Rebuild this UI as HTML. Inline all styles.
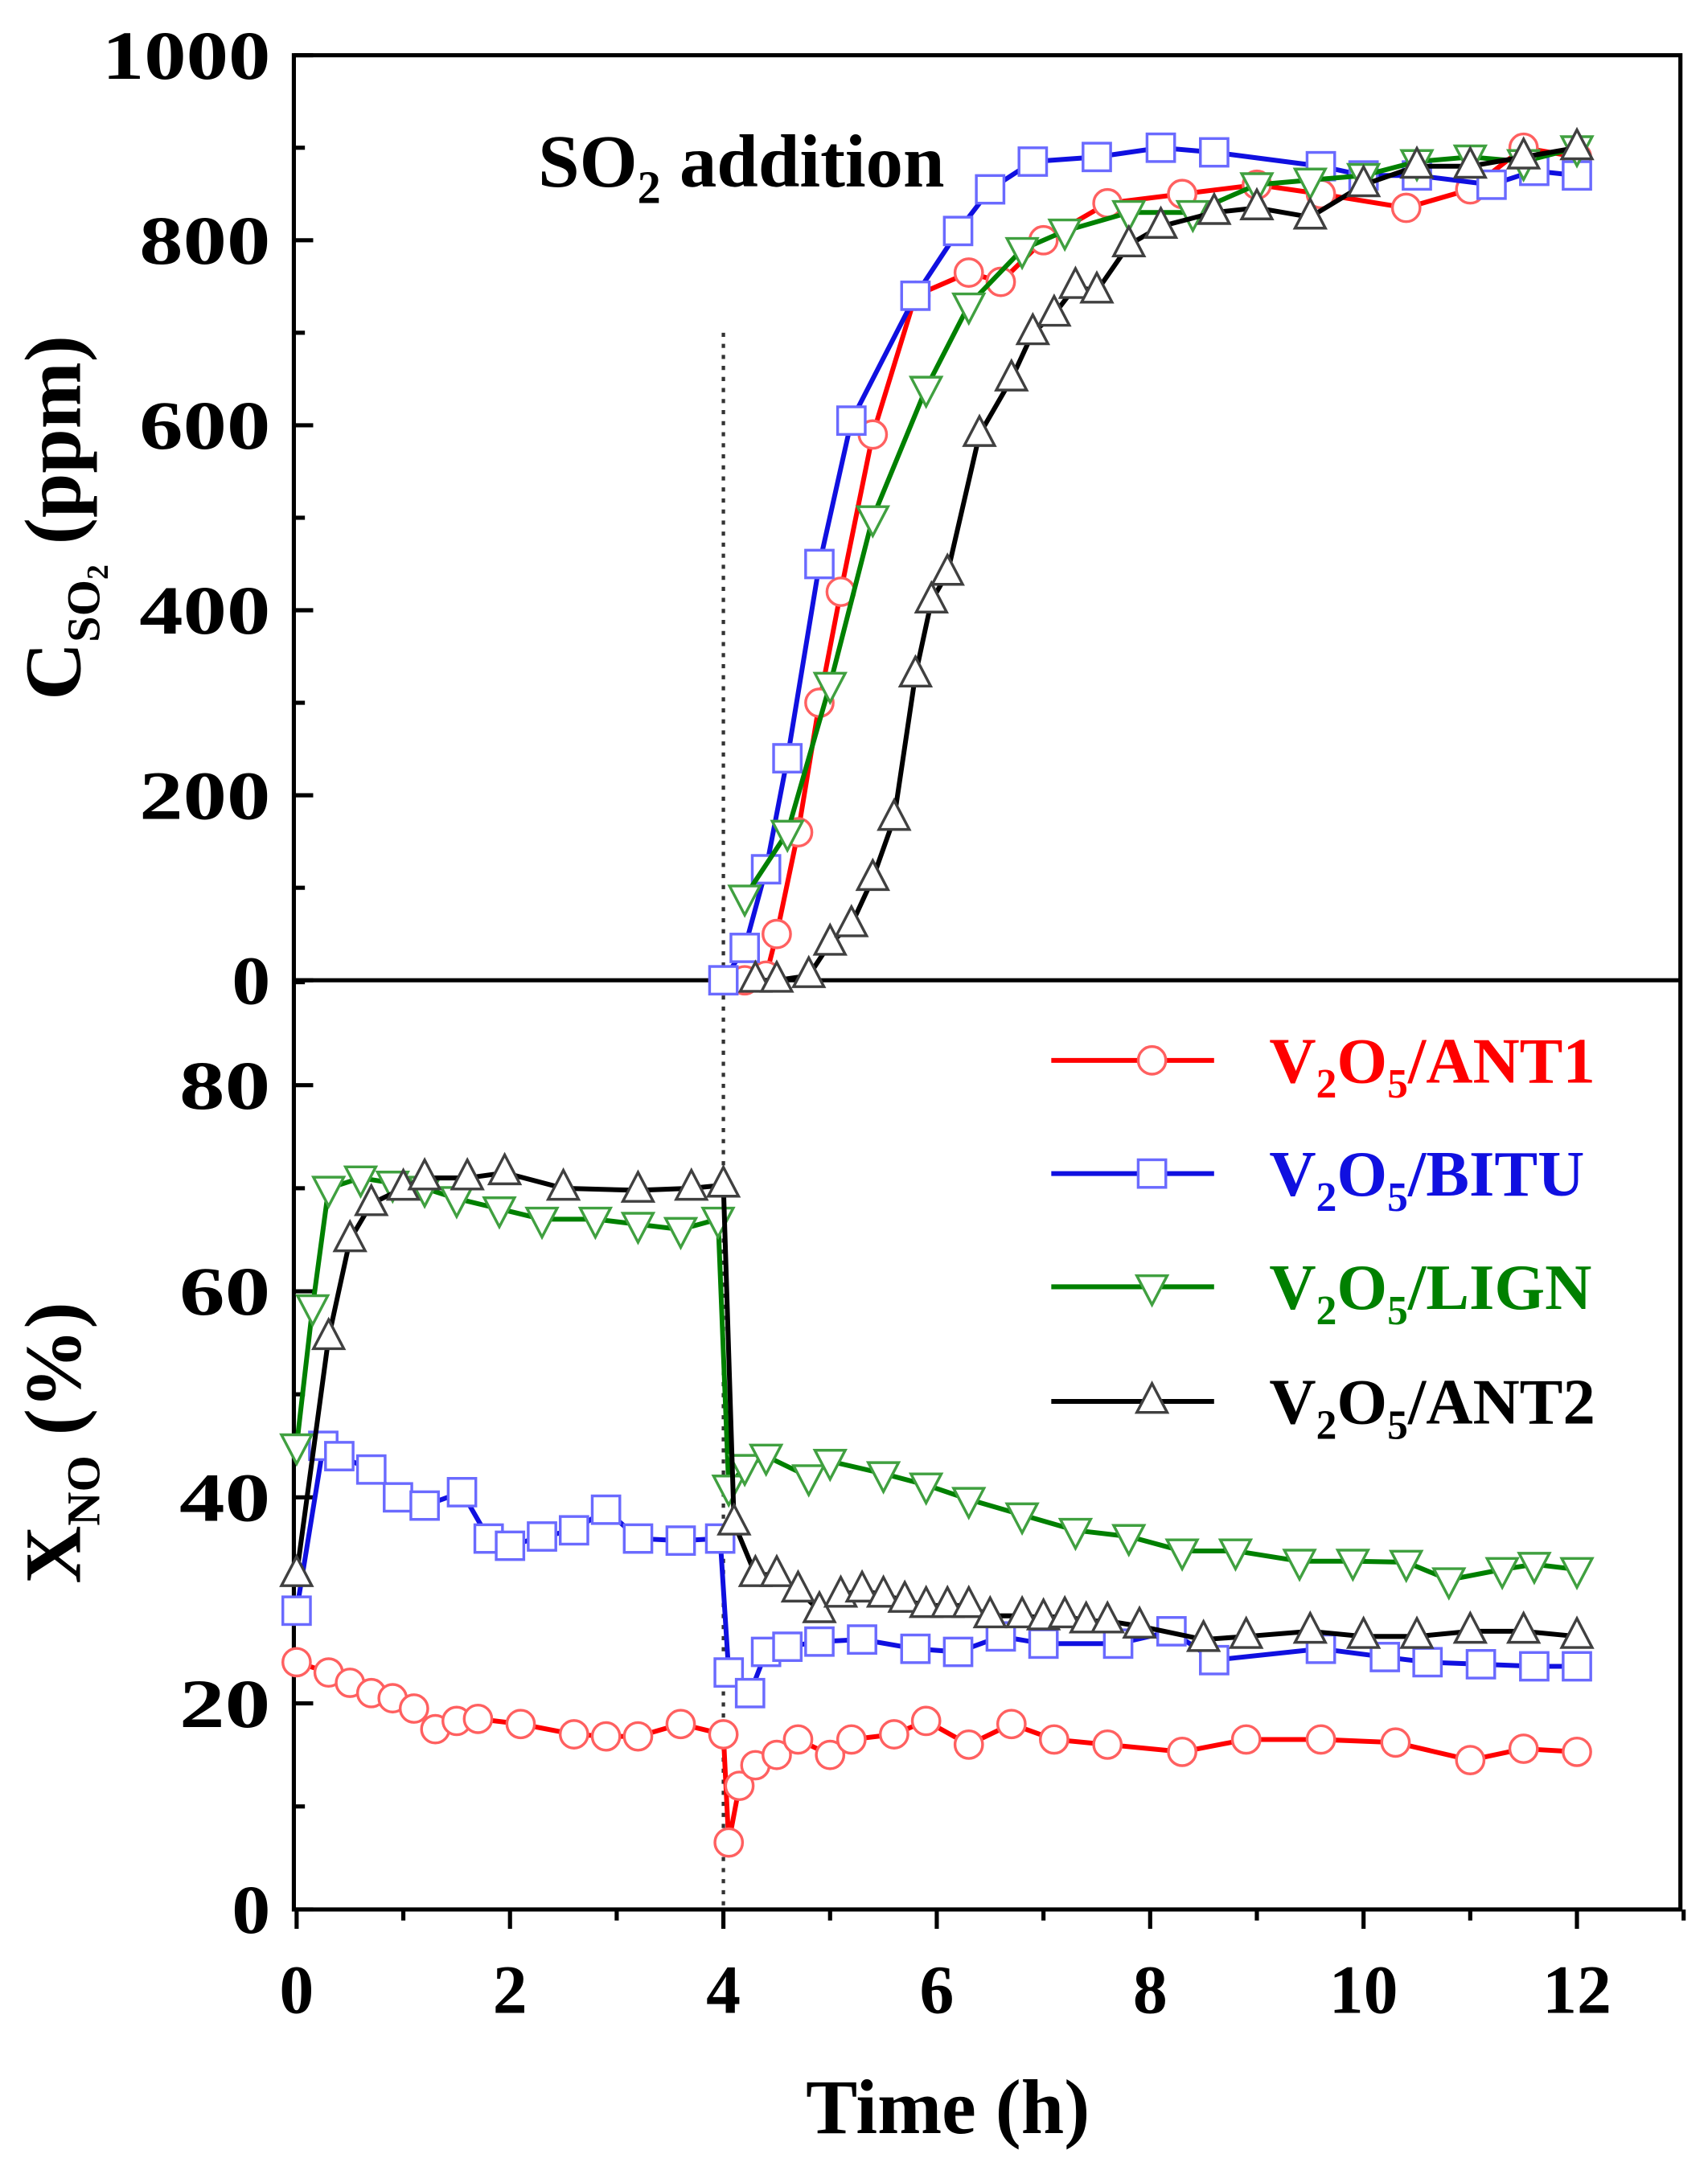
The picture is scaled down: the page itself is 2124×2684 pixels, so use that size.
<!DOCTYPE html>
<html><head><meta charset="utf-8"><style>
html,body{margin:0;padding:0;background:#fff}
svg{display:block}
text{font-family:"Liberation Serif",serif;font-weight:bold}
</style></head><body>
<svg id="chart" width="2124" height="2684" viewBox="0 0 1238 1563" preserveAspectRatio="none" xmlns="http://www.w3.org/2000/svg">
<g id="axes"></g>
<g id="series"></g>
<g id="legend"></g>
</svg>
<script>
// ---- data ----
const seriesNames=["V2O5/ANT1","V2O5/BITU","V2O5/LIGN","V2O5/ANT2"];
const so2Ant1T=[4.0,4.2,4.4,4.5,4.7,4.9,5.1,5.4,5.8,6.3,6.6,7.0,7.6,8.3,9.0,9.6,10.4,11.0,11.5,12.0];
const so2Ant1V=[0,0,5,50,160,300,420,590,740,765,755,800,840,850,860,850,835,855,900,890];
const so2BituT=[4.0,4.2,4.4,4.6,4.9,5.2,5.8,6.2,6.5,6.9,7.5,8.1,8.6,9.6,10.0,10.5,11.2,11.6,12.0];
const so2BituV=[0,35,120,240,450,605,740,810,855,885,890,900,895,880,870,870,860,875,870];
const so2LignT=[4.2,4.6,5.0,5.4,5.9,6.3,6.8,7.2,7.8,8.4,9.0,9.5,10.0,10.5,11.0,11.5,12.0];
const so2LignV=[90,160,320,500,640,730,790,810,830,830,860,865,870,885,890,885,900];
const so2Ant2T=[4.3,4.5,4.8,5.0,5.2,5.4,5.6,5.8,5.95,6.1,6.4,6.7,6.9,7.1,7.3,7.5,7.8,8.1,8.6,9.0,9.5,10.0,10.5,11.0,11.5,12.0];
const so2Ant2V=[0,0,5,40,60,110,175,330,410,440,590,650,700,720,750,745,795,815,830,835,825,860,880,880,890,900];
const noAnt1T=[0,0.3,0.5,0.7,0.9,1.1,1.3,1.5,1.7,2.1,2.6,2.9,3.2,3.6,4.0,4.05,4.15,4.3,4.5,4.7,5.0,5.2,5.6,5.9,6.3,6.7,7.1,7.6,8.3,8.9,9.6,10.3,11.0,11.5,12.0];
const noAnt1V=[24,23,22,21,20.5,19.5,17.5,18.3,18.5,18,17,16.8,16.8,18,17,6.5,12,14,15,16.5,15,16.5,17,18.3,16,18,16.5,16,15.3,16.5,16.5,16.2,14.5,15.6,15.3];
const noBituT=[0,0.25,0.4,0.7,0.95,1.2,1.55,1.8,2.0,2.3,2.6,2.9,3.2,3.6,3.97,4.05,4.25,4.4,4.6,4.9,5.3,5.8,6.2,6.6,7.0,7.7,8.2,8.6,9.6,10.2,10.6,11.1,11.6,12.0];
const noBituV=[29,45,44,42.7,40,39.2,40.5,36,35.3,36.2,36.8,38.8,36,35.8,36,23,21,25,25.5,26,26.2,25.3,25,26.5,25.8,25.8,27,24.2,25.3,24.5,24,23.8,23.6,23.6];
const noLignT=[0,0.15,0.3,0.6,0.9,1.2,1.5,1.9,2.3,2.8,3.2,3.6,3.95,4.05,4.2,4.4,4.8,5.0,5.5,5.9,6.3,6.8,7.3,7.8,8.3,8.8,9.4,9.9,10.4,10.8,11.3,11.6,12.0];
const noLignV=[45,58.5,70,71,70.5,70,69,68,67,67,66.5,66,67,41,43,44,42,43.5,42.3,41.2,39.8,38.3,36.8,36.2,34.8,34.8,33.8,33.8,33.7,32,33,33.5,33];
const noAnt2T=[0,0.3,0.5,0.7,1.0,1.2,1.6,1.95,2.5,3.2,3.7,4.0,4.1,4.3,4.5,4.7,4.9,5.1,5.3,5.5,5.7,5.9,6.1,6.3,6.5,6.8,7.0,7.2,7.4,7.6,7.9,8.5,8.9,9.5,10.0,10.5,11.0,11.5,12.0];
const noAnt2V=[32.5,55.5,65,68.5,70,71,71,71.5,70,69.8,70,70.3,37.5,32.5,32.5,31,29,30.5,31,30.5,30,29.5,29.5,29.5,28.5,28.5,28.3,28.5,28,28,27.5,26.2,26.5,27,26.5,26.5,27,27,26.5];
const xTicks=[0,2,4,6,8,10,12];
const so2Ticks=[0,200,400,600,800,1000];
const noTicks=[0,20,40,60,80];

// ---- scales ----
const L=213,R=1218,T=40,M=710,B=1383;
const xS=t=>215+t*(1143-215)/12;
const yTop=v=>710-v*0.67;
const yBot=v=>1383-v*(1383-786)/80;
const NS="http://www.w3.org/2000/svg";
function mk(tag,attrs,parent){const e=document.createElementNS(NS,tag);for(const k in attrs)e.setAttribute(k,attrs[k]);parent.appendChild(e);return e;}
const axes=document.getElementById('axes'),ser=document.getElementById('series'),leg=document.getElementById('legend');

let fr=mk('rect',{x:L,y:T,width:R-L,height:B-T,fill:'none',stroke:'#000','stroke-width':3},axes);


let mid=mk('line',{x1:L,x2:R,y1:M,y2:M,stroke:'#000','stroke-width':3},axes);


let dl=mk('line',{x1:xS(4),x2:xS(4),y1:yTop(700),y2:B,stroke:'#333','stroke-width':2.5,'stroke-dasharray':'3,5'},axes);



for(let t=0;t<=13;t++){
  const x=xS(t);const major=t%2===0;
  mk('line',{x1:x,x2:x,y1:B,y2:B+(major?14:8),stroke:'#000','stroke-width':3},axes);
}
xTicks.forEach(t=>{const e=mk('text',{x:xS(t),y:1458,'font-size':50,'text-anchor':'middle'},axes);e.textContent=t;

});
for(let v=0;v<=1000;v+=100){const y=yTop(v);mk('line',{x1:L,x2:L+(v%200===0?14:8),y1:y,y2:y,stroke:'#000','stroke-width':3},axes);}
so2Ticks.forEach(v=>{const e=mk('text',{x:196,y:yTop(v)+17,'font-size':50,'text-anchor':'end',textLength:v>=1000?122:(v>0?95:28),lengthAdjust:'spacingAndGlyphs'},axes);e.textContent=v;

});
for(let v=0;v<=90;v+=10){const y=yBot(v);mk('line',{x1:L,x2:L+(v%20===0?14:8),y1:y,y2:y,stroke:'#000','stroke-width':3},axes);}
noTicks.forEach(v=>{const e=mk('text',{x:196,y:yBot(v)+17,'font-size':50,'text-anchor':'end',textLength:v>0?66:28,lengthAdjust:'spacingAndGlyphs'},axes);e.textContent=v;

});

let xt=mk('text',{x:687,y:1545,'font-size':56,'text-anchor':'middle'},axes);xt.textContent='Time (h)';


let yt1=mk('text',{transform:'translate(58,375) rotate(-90)','font-size':58,'text-anchor':'middle'},axes);
yt1.innerHTML='C<tspan font-size="34" dy="14">SO</tspan><tspan font-size="22" dy="6">2</tspan><tspan dy="-20"> (ppm)</tspan>';


let yt2=mk('text',{transform:'translate(58,1045) rotate(-90)','font-size':58,'text-anchor':'middle'},axes);
yt2.innerHTML='X<tspan font-size="34" dy="14">NO</tspan><tspan dy="-14"> (%)</tspan>';


let ann=mk('text',{x:390,y:135,'font-size':54},axes);
ann.innerHTML='SO<tspan font-size="34" dy="12">2</tspan><tspan dy="-12"> addition</tspan>';



const colors=['#ff0000','#1010e0','#008000','#000000'];
const mcolors=['#ff6060','#6a6aff','#40a040','#404040'];
function marker(type,x,y,c,g){
  const s=10;let e;
  if(type===0)e=mk('circle',{cx:x,cy:y,r:s},g);
  else if(type===1)e=mk('rect',{x:x-s,y:y-s,width:2*s,height:2*s},g);
  else if(type===2)e=mk('polygon',{points:`${x-s-1},${y-s+2} ${x+s+1},${y-s+2} ${x},${y+s+3}`},g);
  else e=mk('polygon',{points:`${x-s-1},${y+s-2} ${x+s+1},${y+s-2} ${x},${y-s-3}`},g);
  e.setAttribute('fill','#fff');e.setAttribute('stroke',c);e.setAttribute('stroke-width',2);
  return e;
}
const sets=[
 [so2Ant1T,so2Ant1V,yTop,0,'so2-ant1'],[so2BituT,so2BituV,yTop,1,'so2-bitu'],[so2LignT,so2LignV,yTop,2,'so2-lign'],[so2Ant2T,so2Ant2V,yTop,3,'so2-ant2'],
 [noAnt1T,noAnt1V,yBot,0,'no-ant1'],[noBituT,noBituV,yBot,1,'no-bitu'],[noLignT,noLignV,yBot,2,'no-lign'],[noAnt2T,noAnt2V,yBot,3,'no-ant2']];
sets.forEach(([ts,vs,ys,k,name])=>{
  const g=mk('g',{},ser);
  
  
  const pts=ts.map((t,i)=>xS(t)+','+ys(vs[i])).join(' ');
  mk('polyline',{points:pts,fill:'none',stroke:colors[k],'stroke-width':3.5},g);
  ts.forEach((t,i)=>{const m=marker(k,xS(t),ys(vs[i]),mcolors[k],g);
    
    });
});

const legY=[768,850,932,1015];
const legLabels=['ANT1','BITU','LIGN','ANT2'];
legY.forEach((y,k)=>{
  const g=mk('g',{},leg);
  
  
  mk('line',{x1:762,x2:880,y1:y,y2:y,stroke:colors[k],'stroke-width':3.5},g);
  marker(k,835,y,mcolors[k],g);
  const t=mk('text',{x:920,y:y+16,'font-size':47,fill:colors[k]},g);
  t.innerHTML='V<tspan font-size="30" dy="11">2</tspan><tspan dy="-11">O</tspan><tspan font-size="30" dy="11">5</tspan><tspan dy="-11">/'+legLabels[k]+'</tspan>';
});
</script>
</body></html>
